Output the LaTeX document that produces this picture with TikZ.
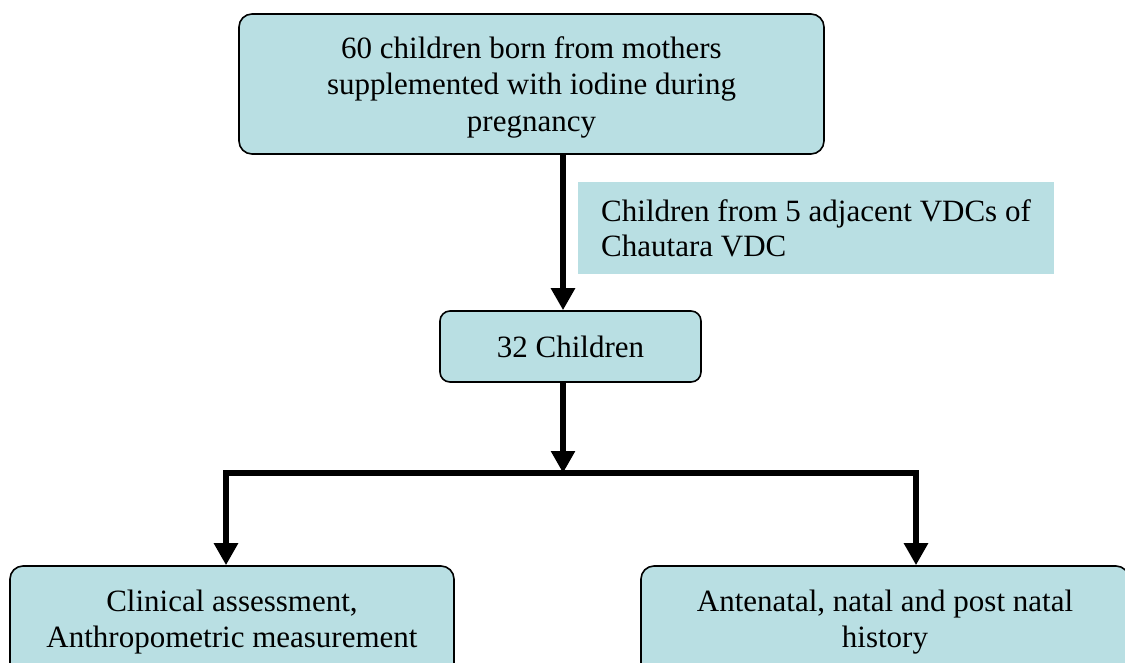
\documentclass[tikz,border=0pt]{standalone}
\usepackage{fontspec}
\setmainfont{Liberation Serif}
\usetikzlibrary{arrows.meta}
\definecolor{boxfill}{RGB}{185,223,227}
\tikzset{
  box/.style={draw=black, line width=1.6pt, fill=boxfill, rounded corners=13pt, align=center,
    font=\fontsize{31}{36.5}\selectfont, inner sep=0pt},
  note/.style={fill=boxfill, align=left, font=\fontsize{31}{35}\selectfont, inner sep=0pt},
  flow/.style={line width=6.5pt, -{Triangle[width=23pt,length=22pt]}},
  flowboth/.style={line width=6.5pt, line join=miter, {Triangle[width=23pt,length=22pt]}-{Triangle[width=23pt,length=22pt]}}
}
\begin{document}
\begin{tikzpicture}[x=1pt,y=-1pt]
\useasboundingbox (0,0) rectangle (1125,662);
\clip (0,0) rectangle (1125,662);
\node[box, minimum width=585pt, minimum height=140pt] (top) at (531.5,84)
  {\rule{0pt}{28pt}60 children born from mothers\\supplemented with iodine during\\pregnancy};
\node[note, minimum width=476pt, minimum height=92pt] (side) at (816,228)
  {Children from 5 adjacent VDCs of\\Chautara VDC};
\node[box, rounded corners=10pt, minimum width=261pt, minimum height=71pt] (mid) at (570.5,346.5)
  {32 Children};
\node[box, minimum width=444pt, minimum height=112pt] (left) at (232,622)
  {Clinical assessment,\\Anthropometric measurement};
\node[box, minimum width=488pt, minimum height=112pt] (right) at (885,622)
  {Antenatal, natal and post natal\\history};
\coordinate (ax) at (563,0);
\coordinate (jc) at (563,473);
\coordinate (jl) at (226,473);
\coordinate (jr) at (916,473);
\draw[flow] (top.south -| ax) -- (mid.north -| ax);
\draw[flow] (mid.south -| ax) -- (jc);
\draw[flowboth] (jl |- left.north) -- (jl) -- (jr) -- (jr |- right.north);
\end{tikzpicture}
\end{document}
